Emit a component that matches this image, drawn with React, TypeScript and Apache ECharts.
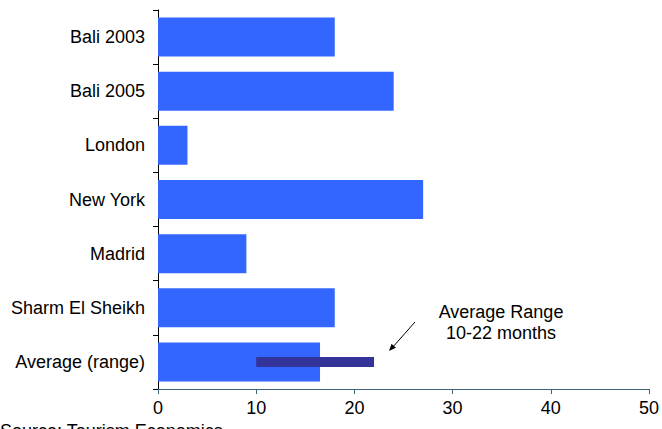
import React, { useEffect, useRef } from "react";
import * as echarts from "echarts";

const categories = ["Bali 2003", "Bali 2005", "London", "New York", "Madrid", "Sharm El Sheikh", "Average (range)"];
const months = [18, 24, 3, 27, 9, 18, 16.5];
const rangeLow = [null, null, null, null, null, null, 10];
const rangeSpan = [null, null, null, null, null, null, 12];
const xTicks = [0, 10, 20, 30, 40, 50];
const annotationLines = ["Average Range", "10-22 months"];
const sourceText = "Source: Tourism Economics";

const FONT = "Liberation Sans, Arial, sans-serif";

export default function App() {
  const ref = useRef<HTMLDivElement>(null);
  useEffect(() => {
    if (!ref.current) return;
    const chart = echarts.init(ref.current, undefined, { renderer: "svg" });
    chart.setOption({
      animation: false,
      backgroundColor: "#ffffff",
      textStyle: { fontFamily: FONT },
      grid: { left: 158, right: 13, top: 10, bottom: 40 },
      xAxis: {
        type: "value",
        min: xTicks[0],
        max: xTicks[xTicks.length - 1],
        interval: 10,
        axisLine: { show: true, lineStyle: { color: "#3d6478", width: 1 } },
        axisTick: { show: true, length: 5, lineStyle: { color: "#3d6478" } },
        splitLine: { show: false },
        axisLabel: { color: "#000", fontSize: 18, fontFamily: FONT, margin: 10 },
      },
      yAxis: [
        {
          type: "category",
          data: categories,
          inverse: true,
          axisLine: { show: true, lineStyle: { color: "#000", width: 1 } },
          axisTick: { show: true, length: 5, lineStyle: { color: "#000" } },
          axisLabel: { color: "#000", fontSize: 18, fontFamily: FONT, margin: 13 },
        },
        {
          type: "category",
          data: categories,
          inverse: true,
          show: false,
        },
      ],
      series: [
        {
          type: "bar",
          data: months,
          yAxisIndex: 0,
          barWidth: 39,
          itemStyle: { color: "#3366ff" },
        },
        {
          type: "bar",
          data: rangeLow,
          yAxisIndex: 1,
          stack: "range",
          barWidth: 10,
          itemStyle: { color: "transparent" },
          silent: true,
        },
        {
          type: "bar",
          data: rangeSpan,
          yAxisIndex: 1,
          stack: "range",
          barWidth: 10,
          itemStyle: { color: "#333399" },
        },
      ],
      graphic: [
        {
          type: "text",
          x: 501,
          y: 301,
          style: {
            text: annotationLines.join("\n"),
            fontSize: 18,
            fontFamily: FONT,
            fill: "#000",
            align: "center",
            lineHeight: 21,
          },
        },
        {
          type: "line",
          shape: { x1: 415, y1: 322, x2: 392, y2: 348 },
          style: { stroke: "#000", lineWidth: 1 },
        },
        {
          type: "polygon",
          shape: { points: [[389, 351], [395.9, 347.8], [391.5, 343.8]] },
          style: { fill: "#000" },
        },
        {
          type: "text",
          x: 0,
          y: 422,
          style: {
            text: sourceText,
            fontSize: 18,
            fontFamily: FONT,
            fill: "#000",
            verticalAlign: "top",
          },
        },
      ],
    });
    return () => chart.dispose();
  }, []);
  return (
    <div
      ref={ref}
      style={{ position: "fixed", left: 0, top: 0, width: 662, height: 429, background: "#fff" }}
    />
  );
}
